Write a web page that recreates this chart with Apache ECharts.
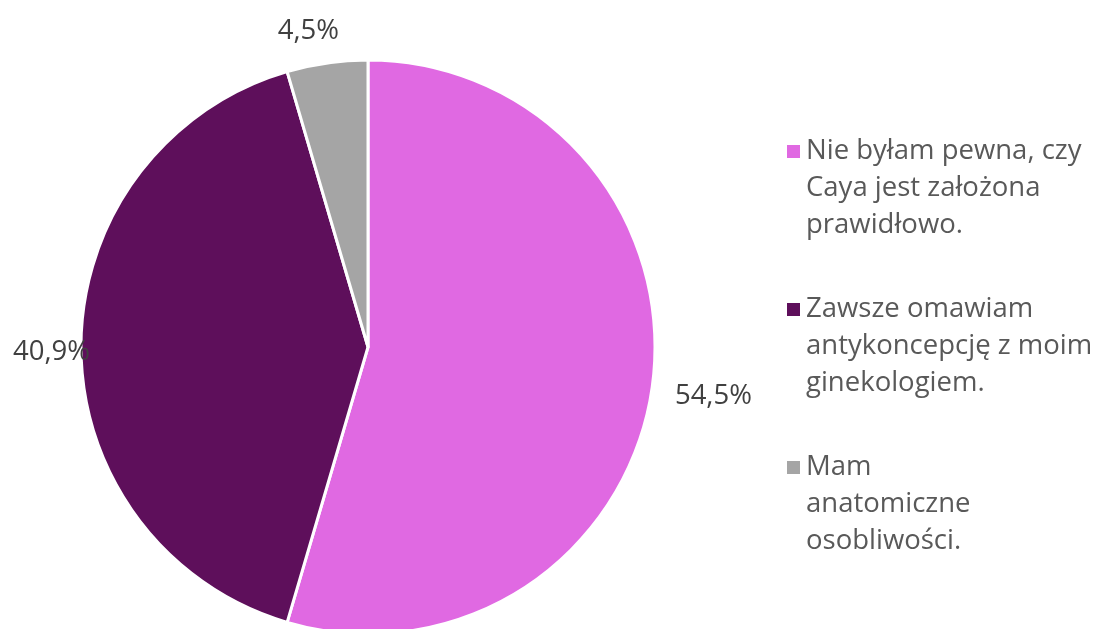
<!DOCTYPE html>
<html>
<head>
<meta charset="utf-8">
<script src="https://cdn.jsdelivr.net/npm/echarts@6/dist/echarts.min.js"></script>
<style>
  html, body { margin: 0; padding: 0; background: #fff; }
  #chart { width: 1103px; height: 629px; }
</style>
</head>
<body>
<div id="chart"></div>
<script>
// kategorie i wartości (liczba odpowiedzi)
const categories = [
  'Nie byłam pewna, czy Caya jest założona prawidłowo.',
  'Zawsze omawiam antykoncepcję z moim ginekologiem.',
  'Mam anatomiczne osobliwości.'
]
const legendLines = [
  ['Nie byłam pewna, czy', 'Caya jest założona', 'prawidłowo.'],
  ['Zawsze omawiam', 'antykoncepcję z moim', 'ginekologiem.'],
  ['Mam', 'anatomiczne', 'osobliwości.']
]
const values = [12, 9, 1]
const colors = ['#E069E2', '#5E0F5B', '#A5A5A5']

// przesunięcia etykiet procentowych
const labelShift = [[3, 6], [29, 5], [19, -17]]

const total = values.reduce((a, b) => a + b, 0)

const chart = echarts.init(document.getElementById('chart'))

const option = {
  animation: false,
  color: colors,
  legend: {
    orient: 'vertical',
    left: 780,
    top: 54,
    itemWidth: 15,
    itemHeight: 15,
    itemGap: -27,
    itemTextGap: 10,
    icon: 'rect',
    data: categories,
    formatter: (name) => {
      const i = categories.indexOf(name)
      // dwie puste linie, żeby ikona stała przy pierwszej linii tekstu
      return '\n\n' + legendLines[i].join('\n')
    },
    textStyle: {
      fontFamily: 'Open Sans',
      fontSize: 27.5,
      lineHeight: 37,
      color: '#595959'
    }
  },
  series: [
    {
      type: 'pie',
      center: [368, 347],
      radius: 287,
      startAngle: 90,
      clockwise: true,
      avoidLabelOverlap: false,
      itemStyle: {
        borderColor: '#fff',
        borderWidth: 3
      },
      label: {
        show: true,
        position: 'outside',
        formatter: (p) => (p.value / total * 100).toFixed(1).replace('.', ',') + '%',
        fontFamily: 'Open Sans',
        fontSize: 27.5,
        color: '#404040'
      },
      labelLine: { show: false, length: 15, length2: 0 },
      labelLayout: (params) => ({
        dx: labelShift[params.dataIndex][0],
        dy: labelShift[params.dataIndex][1]
      }),
      emphasis: { disabled: true },
      data: categories.map((name, i) => ({ name, value: values[i] }))
    }
  ]
}

chart.setOption(option)
window.addEventListener('resize', () => chart.resize())
</script>
</body>
</html>
